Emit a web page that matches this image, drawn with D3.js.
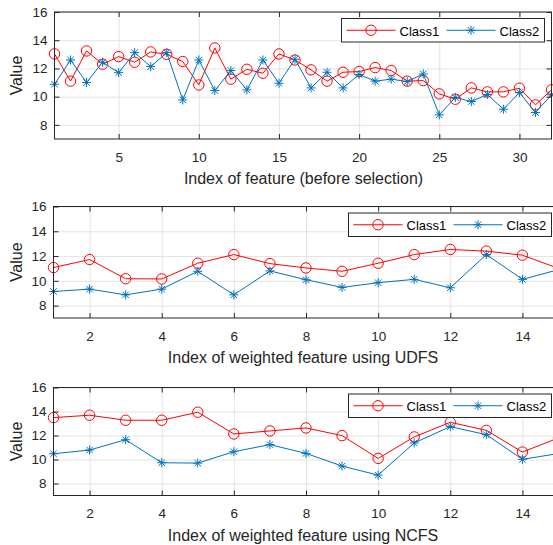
<!DOCTYPE html>
<html>
<head>
<meta charset="utf-8">
<script src="https://cdn.jsdelivr.net/npm/d3@7"></script>
<style>
  body { margin: 0; background: #fff; }
  svg { display: block; font-family: "Liberation Sans", Arial, sans-serif; }
  .tick text { fill: #262626; font-size: 13.5px; }
</style>
</head>
<body>
<div id="chart"></div>
<script>
const W = 553, H = 545;

// values
const class1Before = [13.03, 11.1, 13.24, 12.3, 12.84, 12.44, 13.17, 13.0, 12.49, 10.83,
                      13.45, 11.24, 11.94, 11.66, 13.03, 12.6, 11.9, 11.1, 11.73, 11.78,
                      12.06, 11.85, 11.1, 11.14, 10.2, 9.82, 10.62, 10.34, 10.34, 10.6,
                      9.42, 10.48];
const class2Before = [10.88, 12.6, 11.0, 12.44, 11.7, 13.12, 12.13, 13.12, 9.77, 12.6,
                      10.43, 11.85, 10.48, 12.6, 10.95, 12.65, 10.62, 11.73, 10.62, 11.57,
                      11.1, 11.24, 11.07, 11.61, 8.71, 9.94, 9.66, 10.15, 9.11, 10.29,
                      8.88, 10.13];
const class1Udfs = [11.07, 11.72, 10.17, 10.15, 11.42, 12.12, 11.39, 11.04, 10.77, 11.42,
                    12.12, 12.53, 12.4, 12.07, 11.0];
const class2Udfs = [9.14, 9.33, 8.87, 9.33, 10.77, 8.87, 10.8, 10.09, 9.47, 9.85,
                    10.12, 9.44, 12.12, 10.12, 10.9];
const class1Ncfs = [13.49, 13.69, 13.27, 13.27, 13.94, 12.13, 12.38, 12.63, 11.99, 10.09,
                    11.88, 13.1, 12.43, 10.62, 11.8];
const class2Ncfs = [10.48, 10.79, 11.65, 9.73, 9.7, 10.65, 11.24, 10.51, 9.45, 8.7,
                    11.38, 12.74, 12.07, 10.01, 10.5];

const seriesNames = ["Class1", "Class2"];
const seriesColors = ["#ff0000", "#0072bd"];
const yTicks = [8, 10, 12, 14, 16];
const xTicksBefore = [5, 10, 15, 20, 25, 30];
const xTicksWeighted = [2, 4, 6, 8, 10, 12, 14];

const panels = [
  { top: 12, bottom: 139, left: 54.5, right: 551.5, xMax: 32, ticks: xTicksBefore,
    label: "Index of feature (before selection)", s1: class1Before, s2: class2Before },
  { top: 206.5, bottom: 318, left: 53.5, right: 558.5, xMax: 15, ticks: xTicksWeighted,
    label: "Index of weighted feature using UDFS", s1: class1Udfs, s2: class2Udfs },
  { top: 387.5, bottom: 495.5, left: 53.5, right: 558.5, xMax: 15, ticks: xTicksWeighted,
    label: "Index of weighted feature using NCFS", s1: class1Ncfs, s2: class2Ncfs }
];

const svg = d3.select("#chart").append("svg")
    .attr("width", W)
    .attr("height", H);

function circleMark(g, cx, cy, color) {
  g.append("circle")
    .attr("cx", cx).attr("cy", cy).attr("r", 5.2)
    .attr("fill", "none").attr("stroke", color).attr("stroke-width", 1);
}

function starMark(g, cx, cy, color) {
  const r = 4.5, d = r * 0.72;
  const segs = [[-r, 0, r, 0], [0, -r, 0, r], [-d, -d, d, d], [-d, d, d, -d]];
  segs.forEach(s => {
    g.append("line")
      .attr("x1", cx + s[0]).attr("y1", cy + s[1])
      .attr("x2", cx + s[2]).attr("y2", cy + s[3])
      .attr("stroke", color).attr("stroke-width", 1);
  });
}

const markers = [circleMark, starMark];

panels.forEach(p => {
  const x = d3.scaleLinear().domain([1, p.xMax]).range([p.left, p.right]);
  const y = d3.scaleLinear().domain([7, 16]).range([p.bottom, p.top]);
  const g = svg.append("g");

  // grid
  g.append("g")
    .attr("transform", "translate(0," + p.bottom + ")")
    .call(d3.axisBottom(x).tickValues(p.ticks).tickSize(-(p.bottom - p.top)).tickFormat(""))
    .call(a => a.select(".domain").remove())
    .selectAll("line").attr("stroke", "#e3e3e3");
  g.append("g")
    .attr("transform", "translate(" + p.left + ",0)")
    .call(d3.axisLeft(y).tickValues(yTicks).tickSize(-(p.right - p.left)).tickFormat(""))
    .call(a => a.select(".domain").remove())
    .selectAll("line").attr("stroke", "#e3e3e3");

  // lines and markers
  [p.s1, p.s2].forEach((vals, k) => {
    const line = d3.line().x((d, i) => x(i + 1)).y(d => y(d));
    g.append("path")
      .datum(vals)
      .attr("d", line)
      .attr("fill", "none")
      .attr("stroke", seriesColors[k])
      .attr("stroke-width", 1);
    const mg = g.append("g");
    vals.forEach((v, i) => markers[k](mg, x(i + 1), y(v), seriesColors[k]));
  });

  // axes with inward ticks
  const bottomAxis = g.append("g")
    .attr("transform", "translate(0," + p.bottom + ")")
    .call(d3.axisBottom(x).tickValues(p.ticks).tickSizeInner(-5).tickSizeOuter(0).tickPadding(13));
  const leftAxis = g.append("g")
    .attr("transform", "translate(" + p.left + ",0)")
    .call(d3.axisLeft(y).tickValues(yTicks).tickSizeInner(-5).tickSizeOuter(0).tickPadding(7));
  const topAxis = g.append("g")
    .attr("transform", "translate(0," + p.top + ")")
    .call(d3.axisTop(x).tickValues(p.ticks).tickSizeInner(-5).tickSizeOuter(0).tickFormat(""));
  const rightAxis = g.append("g")
    .attr("transform", "translate(" + p.right + ",0)")
    .call(d3.axisRight(y).tickValues(yTicks).tickSizeInner(-5).tickSizeOuter(0).tickFormat(""));
  [bottomAxis, leftAxis, topAxis, rightAxis].forEach(a => {
    a.select(".domain").remove();
    a.selectAll("line").attr("stroke", "#262626");
  });

  // box
  g.append("rect")
    .attr("x", p.left).attr("y", p.top)
    .attr("width", p.right - p.left).attr("height", p.bottom - p.top)
    .attr("fill", "none").attr("stroke", "#262626").attr("stroke-width", 1);

  // labels
  g.append("text")
    .attr("x", (p.left + 551.5) / 2 + 0.5)
    .attr("y", p.bottom + 45)
    .attr("text-anchor", "middle")
    .attr("fill", "#262626")
    .style("font-size", "16px")
    .text(p.label);
  g.append("text")
    .attr("transform", "translate(22," + ((p.top + p.bottom) / 2) + ")rotate(-90)")
    .attr("text-anchor", "middle")
    .attr("fill", "#262626")
    .style("font-size", "16px")
    .text("Value");

  // legend
  const lx = p.right - 7 - 203, ly = p.top + 6.5;
  const lg = g.append("g").attr("transform", "translate(" + lx + "," + ly + ")");
  lg.append("rect")
    .attr("width", 203).attr("height", 23.5)
    .attr("fill", "#fff").attr("stroke", "#262626").attr("stroke-width", 1);
  seriesNames.forEach((name, k) => {
    const ox = k * 100;
    lg.append("line")
      .attr("x1", ox + 5).attr("x2", ox + 54)
      .attr("y1", 11.75).attr("y2", 11.75)
      .attr("stroke", seriesColors[k]).attr("stroke-width", 1);
    markers[k](lg, ox + 29.5, 11.75, seriesColors[k]);
    lg.append("text")
      .attr("x", ox + 58).attr("y", 17)
      .attr("fill", "#000")
      .style("font-size", "13px")
      .text(name);
  });
});
</script>
</body>
</html>
